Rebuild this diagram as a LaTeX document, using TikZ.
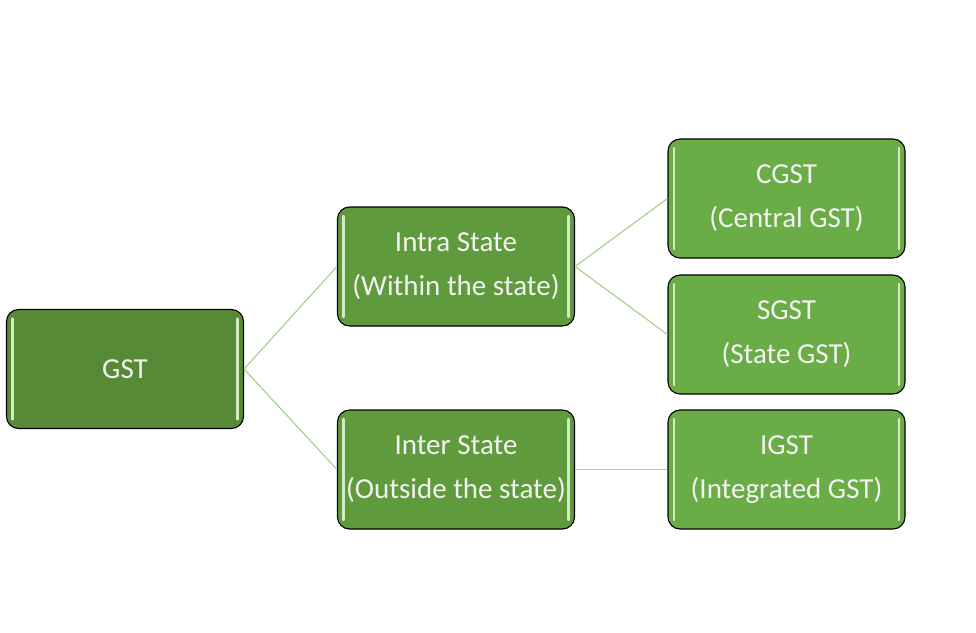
\documentclass[tikz,border=0pt]{standalone}
\usepackage{fontspec}
\setmainfont{Carlito}
\usetikzlibrary{positioning}
\definecolor{rootgreen}{HTML}{578A36}
\definecolor{midgreen}{HTML}{5F9B3C}
\definecolor{leafgreen}{HTML}{6AAD47}
\definecolor{glowgreen}{HTML}{D2EBC2}
\definecolor{linkgreen}{HTML}{A9D18E}
\tikzset{
    taxbox/.style={
        draw=black,
        line width=1.1pt,
        rounded corners=12pt,
        minimum width=237pt,
        minimum height=119pt,
        inner sep=0pt,
        align=center,
        text=white!95!black,
        font=\fontsize{29}{44}\selectfont,
        path picture={
            \draw[glowgreen, line width=2.2pt, line cap=round]
                ([xshift=6pt,yshift=-9pt]path picture bounding box.north west)
                -- ([xshift=6pt,yshift=9pt]path picture bounding box.south west);
            \draw[glowgreen, line width=2.2pt, line cap=round]
                ([xshift=-6pt,yshift=-9pt]path picture bounding box.north east)
                -- ([xshift=-6pt,yshift=9pt]path picture bounding box.south east);
        }
    },
    link/.style={
        draw=linkgreen,
        line width=1.2pt
    }
}
\begin{document}
\begin{tikzpicture}[
    x=1pt,
    y=-1pt
]
    \useasboundingbox (0,0) rectangle (976,632);

    % Cajas
    \node[taxbox, fill=rootgreen] (gst)   at (125,369)     {GST};
    \node[taxbox, fill=midgreen]  (intra) at (456,266.5)   {Intra State\\(Within the state)};
    \node[taxbox, fill=midgreen]  (inter) at (456,469.5)   {Inter State\\(Outside the state)};
    \node[taxbox, fill=leafgreen] (cgst)  at (786.5,198.5) {CGST\\(Central GST)};
    \node[taxbox, fill=leafgreen] (sgst)  at (786.5,334.5) {SGST\\(State GST)};
    \node[taxbox, fill=leafgreen] (igst)  at (786.5,469.5) {IGST\\(Integrated GST)};

    % Conexiones
    \path[link]
        (gst.east)   edge (intra.west)
                     edge (inter.west)
        (intra.east) edge (cgst.west)
                     edge (sgst.west)
        (inter.east) edge (igst.west);

\end{tikzpicture}
\end{document}
